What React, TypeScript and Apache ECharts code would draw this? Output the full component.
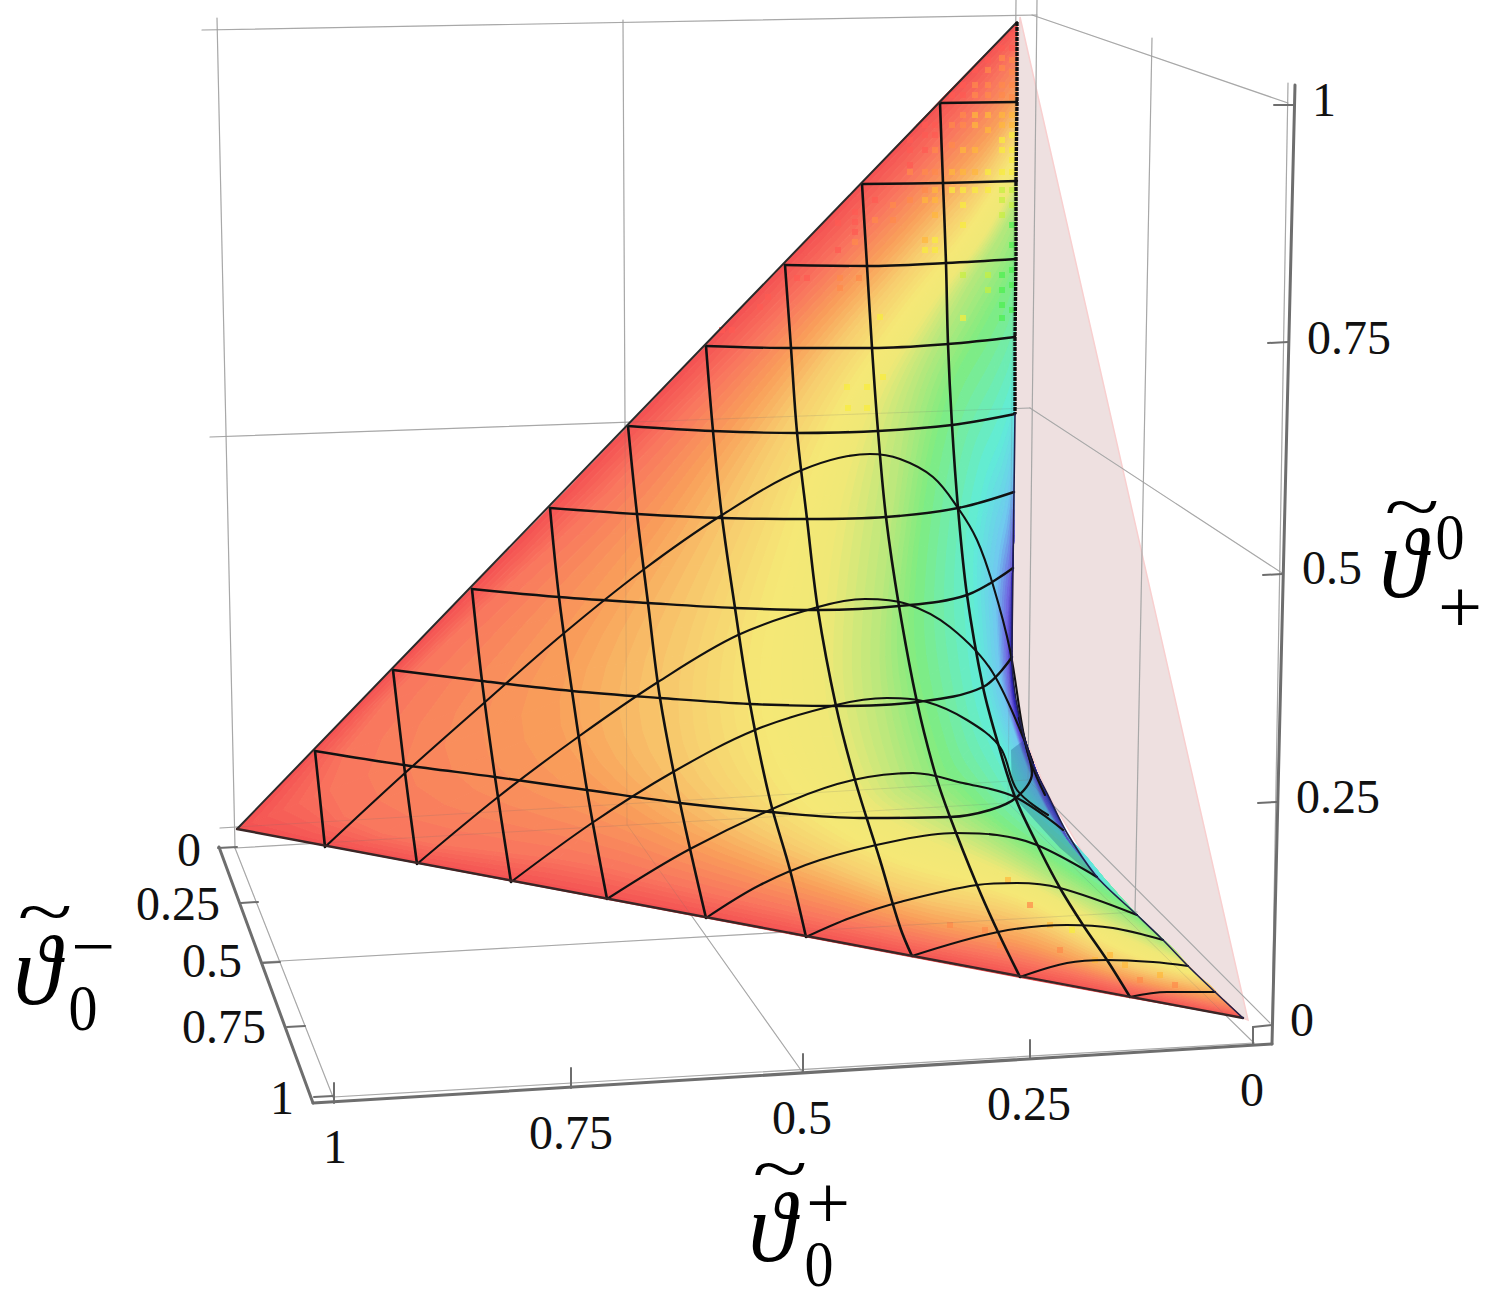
import React, { useEffect, useRef } from "react";
import * as echarts from "echarts";

type P = [number, number];

// Hue contours of the surface (each: top of right edge -> leftmost -> bottom end)
const surfaceLevels: P[][] = [
  [[1017,22],[950,90],[850,195],[740,310],[560,497],[237,829],[600,898],[880,951],[1017,977],[1120,996],[1243,1018]],
  [[1017,50],[975,105],[885,205],[770,325],[610,490],[330,790],[610,868],[880,932],[1017,960],[1120,985],[1235,1010]],
  [[1017,95],[985,140],[905,230],[800,345],[680,500],[560,700],[650,818],[880,907],[1017,940],[1120,975],[1222,998]],
  [[1017,125],[975,190],[900,275],[815,380],[740,510],[680,680],[715,795],[880,882],[1017,915],[1122,963],[1210,985]],
  [[1017,155],[965,235],[895,325],[835,420],[790,540],[760,680],[790,785],[880,852],[1017,895],[1124,950],[1197,975]],
  [[1017,175],[985,235],[925,315],[870,410],[835,540],[825,680],[850,780],[900,825],[1017,878],[1126,937],[1188,965]],
  [[1017,200],[1000,235],[960,300],[915,390],[895,500],[880,660],[900,770],[925,800],[1017,858],[1128,922],[1175,950]],
  [[1016,255],[1006,285],[985,325],[950,390],[925,500],[915,640],[940,755],[965,790],[1017,835],[1120,903],[1150,927]],
  [[1015,385],[1010,410],[1000,440],[985,480],[975,540],[975,610],[985,700],[1010,765],[1030,800],[1085,855],[1107,887]],
  [[1014,470],[1011,490],[1006,520],[1001,545],[997,580],[997,620],[1003,690],[1021,750],[1038,792],[1060,830],[1090,868]],
  [[1014,530],[1013,555],[1011,580],[1009,600],[1008,625],[1008,650],[1011,695],[1020,738],[1043,796],[1055,818],[1068,840]],
  [[1013,560],[1012,590],[1012,620],[1012,645],[1012,665],[1013,685],[1016,705],[1021,725],[1028,748],[1038,775],[1050,800]],
];
const surfaceColors: number[][] = [
  [243,80,82],[249,116,94],[249,160,90],[247,205,110],[245,232,118],[240,232,118],
  [184,232,124],[128,236,128],[96,236,216],[112,200,240],[112,96,224],[40,32,176],
];

// Saturated dots of the reference's surface texture: [x, y, colour index]
const spotPalette = ["#ff5a52", "#ff8a4a", "#ffb83a", "#f8ec3c", "#c4f040", "#4cf050"];
const moireSpots: [number, number, number][] = [
  [1012,35,0],[1012,48,0],[1012,60,1],[1012,72,1],[1012,85,1],[1012,97,1],[1012,115,2],[1012,125,2],[1012,135,3],[1012,150,3],[1012,160,3],[1012,172,3],[1012,190,4],[1012,205,4],[1012,225,5],[1012,245,5],[1012,270,5],[1012,285,5],[1012,310,5],
  [1002,48,0],[1002,58,1],[1002,68,1],[1002,85,1],[1002,95,1],[1002,115,2],[1002,125,2],[1002,140,3],[1002,150,3],[1002,172,3],[1002,190,4],[1002,200,4],[1002,215,4],[1002,275,5],[1002,290,5],[1002,305,5],[1002,318,5],
  [988,60,0],[988,70,1],[988,85,1],[988,95,1],[988,115,2],[988,130,2],[988,172,3],[988,190,3],[988,275,4],[988,290,4],
  [975,70,0],[975,85,1],[975,95,1],[975,115,2],[975,125,2],[975,150,2],[975,172,2],[975,190,3],
  [963,85,0],[963,95,0],[963,115,1],[963,125,1],[963,150,2],[963,172,2],[963,190,3],[963,205,3],[963,225,3],[963,275,4],[963,318,3],
  [952,95,0],[952,125,1],[952,145,1],[952,172,2],[952,190,3],
  [935,125,0],[935,135,0],[935,150,1],[935,172,1],[935,190,2],[935,200,2],[935,215,2],[935,240,3],[935,250,3],
  [925,125,0],[925,135,0],[925,150,0],[925,172,1],[925,190,1],[925,200,2],[925,240,2],[925,250,3],
  [910,140,0],[910,150,0],[910,165,0],[910,172,1],[910,200,1],
  [893,205,1],[893,220,1],[875,200,0],[875,220,1],[855,212,0],[855,222,0],[855,232,0],[855,242,1],[838,223,0],[838,250,0],
  [797,278,0],[807,278,0],[840,278,1],[859,278,1],[840,288,1],[732,330,0],[722,330,0],[760,307,0],[768,297,0],
  [880,317,3],[847,387,3],[867,387,3],[883,377,3],[848,408,3],[867,408,3],
  [1008,880,2],[1030,905,1],[1050,925,2],[1072,930,3],[1095,960,2],[1110,955,2],[1125,965,2],[1140,980,1],[1160,975,2],[1175,985,1],[1060,950,1],[1000,945,1],[985,930,1],[950,925,1],
];

// Black mesh, family running from the long edge to the right edge
const meshAcross: P[][] = [
  [[940,103],[1017,102]],
  [[862,184],[943,183],[1017,181]],
  [[785,265],[867,266],[946,263],[1016,259]],
  [[706,346],[791,348],[872,348],[948,344],[1015,337]],
  [[628,426],[713,431],[797,433],[878,431],[952,425],[1015,414]],
  [[550,508],[637,514],[722,518],[807,519],[886,517],[958,508],[1014,492]],
  [[472,589],[559,597],[648,603],[735,608],[818,610],[899,606],[967,595],[1013,568]],
  [[393,670],[482,681],[572,691],[660,698],[750,704],[836,706],[917,702],[983,687],[1012,657]],
  [[315,751],[404,765],[495,777],[587,790],[680,803],[770,812],[860,818],[950,817],[990,810],[1017,797],[1032,773],[1026,745],[1019,718]],
];
// Black mesh, family running from the long edge to the bottom edge
const meshDown: P[][] = [
  [[315,751],[325,847]],
  [[393,670],[404,765],[417,864]],
  [[472,589],[482,681],[495,777],[511,882]],
  [[550,508],[559,597],[572,691],[587,790],[607,899]],
  [[628,426],[637,514],[648,603],[660,698],[680,803],[706,918]],
  [[706,346],[713,431],[722,517],[735,608],[750,704],[770,800],[790,870],[806,937]],
  [[785,265],[791,348],[797,432],[807,519],[818,610],[836,706],[855,780],[880,860],[900,927],[912,956]],
  [[862,184],[867,266],[872,348],[878,431],[886,517],[899,606],[917,702],[935,773],[950,817],[977,885],[998,932],[1020,977]],
  [[940,103],[943,183],[946,263],[948,344],[952,425],[958,508],[967,595],[983,687],[997,740],[1015,797],[1038,846],[1060,888],[1083,925],[1107,960],[1130,997]],
];
// Black mesh, arched family starting on the bottom edge
const meshArches: P[][] = [
  [[325,847],[405,773],[484,703],[563,634],[643,570],[722,515],[802,470],[870,454],[900,459],[933,477],[958,508],[977,540],[993,585],[1010,650],[1027,750],[1045,795]],
  [[417,864],[498,797],[578,737],[658,682],[738,635],[818,607],[865,599],[907,604],[950,627],[993,673],[1033,763]],
  [[511,882],[592,823],[673,772],[755,730],[836,705],[887,698],[927,702],[967,720],[1000,747],[1017,790],[1048,815]],
  [[607,899],[690,849],[793,800],[853,780],[913,773],[963,783],[1015,797],[1063,830]],
  [[706,918],[760,885],[820,860],[900,840],[955,833],[997,835],[1037,845],[1097,877]],
  [[806,937],[850,918],[900,902],[977,885],[1017,883],[1060,888],[1137,915]],
  [[912,956],[998,932],[1067,925],[1113,928],[1163,940]],
  [[1020,977],[1067,963],[1107,960],[1153,962],[1188,966]],
  [[1130,997],[1167,992],[1215,992]],
];
const edgeLong: P[] = [[237,829],[1017,22]];
const edgeBottom: P[] = [[237,829],[1243,1018]];
const edgeRightUpper: P[] = [[1017,22],[1017,103],[1016,181],[1016,259],[1015,337],[1015,414]];
const edgeRightLower: P[] = [[1015,414],[1014,492],[1013,568],[1012,657],[1015,693],[1023,733],[1033,765],[1047,793],[1067,833],[1097,877],[1137,915],[1163,940],[1188,966],[1215,992],[1243,1018]];
const foldShade: P[] = [[1011,750],[1012,795],[1030,815],[1060,848],[1100,882],[1067,833],[1047,793],[1033,765],[1024,740]];

const backPane: P[] = [[1020,17],[1248,1020],[1243,1018],[1215,992],[1163,940],[1097,877],[1047,793],[1023,733],[1012,657],[1013,568],[1015,414],[1016,259],[1017,103]];

const boxLines: P[][] = [
  [[202,30],[1037,15]], [[1032,15],[1288,103]],
  [[217,18],[235,848]], [[623,20],[627,825]], [[1016,0],[1008,803]], [[1037,0],[1028,780]], [[1152,38],[1135,913]],
  [[210,437],[1030,408]], [[1030,408],[1282,573]],
  [[220,828],[1028,780]], [[1028,780],[1270,1023]],
  [[235,848],[1008,803]], [[1008,803],[1254,1043]],
  [[628,826],[803,1073]], [[263,962],[1137,912]],
  [[235,848],[333,1097]], [[333,1097],[1254,1043]], [[1288,83],[1272,1023]],
];
const axisLines: P[][] = [
  [[313,1103],[1272,1044]], [[1295,85],[1272,1044]], [[219,847],[313,1103]],
];
const axisTicks: P[][] = [
  [[1274,105],[1293,105]], [[1268,343],[1288,342]], [[1263,575],[1282,574]], [[1258,803],[1277,802]], [[1253,1027],[1272,1025]],
  [[334,1083],[334,1103]], [[571,1068],[571,1088]], [[803,1054],[803,1073]], [[1030,1040],[1030,1058]], [[1253,1027],[1253,1045]],
  [[218,848],[237,847]], [[241,903],[258,902]], [[262,963],[280,962]], [[287,1027],[305,1026]], [[314,1097],[333,1096]],
];

const tickTexts: [number, number, string][] = [
  [189,849,"0"],[178,903,"0.25"],[212,960,"0.5"],[224,1026,"0.75"],[282,1097,"1"],
  [335,1146,"1"],[571,1132,"0.75"],[802,1117,"0.5"],[1029,1103,"0.25"],[1252,1089,"0"],
  [1302,1019,"0"],[1338,796,"0.25"],[1332,567,"0.5"],[1349,337,"0.75"],[1324,99,"1"],
];
// x, y, text, font size, italic, horizontal stretch, vertical stretch
const mathTexts: [number, number, string, number, boolean, number, number][] = [
  [37,970,"\u03D1",96,true,1,1.04],[45,911,"~",70,false,1.45,1],[93,947,"\u2212",58,false,1.35,1.2],[83,1008,"0",58,false,1,1.14],
  [772,1227,"\u03D1",96,true,1,1.04],[780,1168,"~",70,false,1.45,1],[828,1203,"+",58,false,1.35,1.3],[819,1264,"0",58,false,1,1.14],
  [1403,563,"\u03D1",96,true,1,1.04],[1412,506,"~",70,false,1.45,1],[1450,537,"0",58,false,1,1.14],[1460,607,"+",58,false,1.35,1.3],
];

const FONT = '"Liberation Serif","DejaVu Serif",serif';
const SUB_ALONG = 6;
const SUB_ACROSS = 6;

function catmull(a: P, b: P, c: P, d: P, t: number): P {
  const f = (p0: number, p1: number, p2: number, p3: number) =>
    0.5 * (2 * p1 + (p2 - p0) * t + (2 * p0 - 5 * p1 + 4 * p2 - p3) * t * t + (3 * p1 - p0 - 3 * p2 + p3) * t * t * t);
  return [f(a[0], b[0], c[0], d[0]), f(a[1], b[1], c[1], d[1])];
}
function refine(level: P[], straight: boolean): P[] {
  const out: P[] = [];
  for (let j = 0; j < level.length - 1; j++) {
    for (let s = 0; s < SUB_ALONG; s++) {
      const t = s / SUB_ALONG;
      if (straight) {
        out.push([level[j][0] + (level[j + 1][0] - level[j][0]) * t, level[j][1] + (level[j + 1][1] - level[j][1]) * t]);
      } else {
        out.push(catmull(level[Math.max(j - 1, 0)], level[j], level[j + 1], level[Math.min(j + 2, level.length - 1)], t));
      }
    }
  }
  out.push(level[level.length - 1]);
  return out;
}

function buildOption() {
  const fine = surfaceLevels.map((l, i) => refine(l, i === 0));
  const cells: number[][] = [];
  for (let k = 0; k < fine.length - 1; k++) for (let m = 0; m < SUB_ACROSS; m++) for (let j = 0; j < fine[0].length - 1; j++) cells.push([k, m, j]);

  const mix = (a: P, b: P, t: number): P => [a[0] + (b[0] - a[0]) * t, a[1] + (b[1] - a[1]) * t];

  const surface = {
    type: "custom", name: "surface", coordinateSystem: "cartesian2d", z: 3, clip: false, silent: true,
    encode: { x: 0, y: 1 }, data: cells,
    renderItem: (_p: any, api: any) => {
      const k = api.value(0), m = api.value(1), j = api.value(2);
      const a = fine[k], b = fine[k + 1];
      const t0 = m / SUB_ACROSS, t1 = (m + 1) / SUB_ACROSS, tc = (m + 0.5) / SUB_ACROSS;
      const pts = [mix(a[j], b[j], t0), mix(a[j + 1], b[j + 1], t0), mix(a[j + 1], b[j + 1], t1), mix(a[j], b[j], t1)].map((q) => api.coord(q));
      const c0 = surfaceColors[k], c1 = surfaceColors[k + 1];
      const col = `rgb(${c0.map((v, i) => Math.round(v + (c1[i] - v) * tc)).join(",")})`;
      return { type: "polygon", shape: { points: pts }, style: { fill: col, stroke: col, lineWidth: 1 } };
    },
  };

  const spots = {
    type: "custom", name: "texture", coordinateSystem: "cartesian2d", z: 3.5, clip: false, silent: true,
    encode: { x: 0, y: 1 }, data: moireSpots,
    renderItem: (_p: any, api: any) => {
      const c = api.coord([api.value(0), api.value(1)]);
      return { type: "rect", shape: { x: c[0] - 3, y: c[1] - 3, width: 6, height: 6 }, style: { fill: spotPalette[api.value(2)], opacity: 0.7 } };
    },
  };

  const area = (name: string, pts: P[], fill: string, stroke: string, z: number) => ({
    type: "custom", name, coordinateSystem: "cartesian2d", z, clip: false, silent: true,
    encode: { x: 0, y: 1 }, data: [pts[0]],
    renderItem: (_p: any, api: any) => ({
      type: "polygon", shape: { points: pts.map((q) => api.coord(q)) }, style: { fill, stroke, lineWidth: 1.5 },
    }),
  });

  const line = (name: string, data: P[], color: string, width: number, z: number, smooth: number | boolean = false, opacity = 1, dash?: number[]) => ({
    type: "line", name, data, z, smooth, clip: false, silent: true, showSymbol: false, symbol: "none",
    lineStyle: { color, width, opacity, cap: dash ? "butt" : "round", join: "round", type: dash ?? "solid" },
  });

  const texts = {
    type: "custom", name: "ticks", coordinateSystem: "cartesian2d", z: 9, clip: false, silent: true,
    encode: { x: 0, y: 1 }, data: tickTexts.map((t, i) => [t[0], t[1], i]),
    renderItem: (_p: any, api: any) => {
      const t = tickTexts[api.value(2)];
      const c = api.coord([t[0], t[1]]);
      return { type: "text", x: c[0], y: c[1], style: { text: t[2], x: 0, y: 0, align: "center", verticalAlign: "middle", fill: "#111", font: `48px ${FONT}` } };
    },
  };
  const math = {
    type: "custom", name: "titles", coordinateSystem: "cartesian2d", z: 9, clip: false, silent: true,
    encode: { x: 0, y: 1 }, data: mathTexts.map((t, i) => [t[0], t[1], i]),
    renderItem: (_p: any, api: any) => {
      const t = mathTexts[api.value(2)];
      const c = api.coord([t[0], t[1]]);
      return {
        type: "text", x: c[0], y: c[1], scaleX: t[5], scaleY: t[6],
        style: { text: t[2], x: 0, y: 0, align: "center", verticalAlign: "middle", fill: "#000", font: `${t[4] ? "italic " : ""}${t[3]}px ${FONT}` },
      };
    },
  };

  return {
    animation: false,
    backgroundColor: "#ffffff",
    grid: { left: 0, right: 0, top: 0, bottom: 0, containLabel: false },
    xAxis: { type: "value", min: 0, max: 1500, show: false },
    yAxis: { type: "value", min: 0, max: 1307, inverse: true, show: false },
    tooltip: { show: false },
    series: [
      area("pane", backPane, "#eee0e0", "#f8cfcf", 1),
      ...boxLines.map((d, i) => line(`box${i}`, d, "#b4b4b4", 1.2, 2)),
      surface,
      spots,
      ...boxLines.map((d, i) => line(`boxOver${i}`, d, "#707070", 1, 4, false, 0.18)),
      area("fold", foldShade, "rgba(20,70,130,0.3)", "rgba(20,70,130,0)", 4),
      ...meshAcross.map((d, i) => line(`across${i}`, d, "#111", 2.4, 5, 0.35)),
      ...meshDown.map((d, i) => line(`down${i}`, d, "#111", 2.6, 5, 0.35)),
      ...meshArches.map((d, i) => line(`arch${i}`, d, "#111", 2.1, 5, 0.35)),
      line("edgeLong", edgeLong, "#2a2a2a", 2, 6),
      line("edgeBottom", edgeBottom, "#3a2626", 2.4, 6),
      line("edgeRightUpper", edgeRightUpper, "#111", 3.4, 6, false, 1, [4, 1]),
      line("edgeRightLower", edgeRightLower, "#20204a", 1.6, 6, 0.3),
      ...axisLines.map((d, i) => line(`axis${i}`, d, "#6e6e6e", 3, 7)),
      ...axisTicks.map((d, i) => line(`tick${i}`, d, "#6e6e6e", 2, 7)),
      texts,
      math,
    ],
  };
}

export default function App() {
  const ref = useRef<HTMLDivElement>(null);
  useEffect(() => {
    const chart = echarts.init(ref.current!, undefined, { renderer: "svg" });
    chart.setOption(buildOption() as any);
    return () => chart.dispose();
  }, []);
  return <div ref={ref} style={{ position: "absolute", left: 0, top: 0, width: 1500, height: 1307 }} />;
}
